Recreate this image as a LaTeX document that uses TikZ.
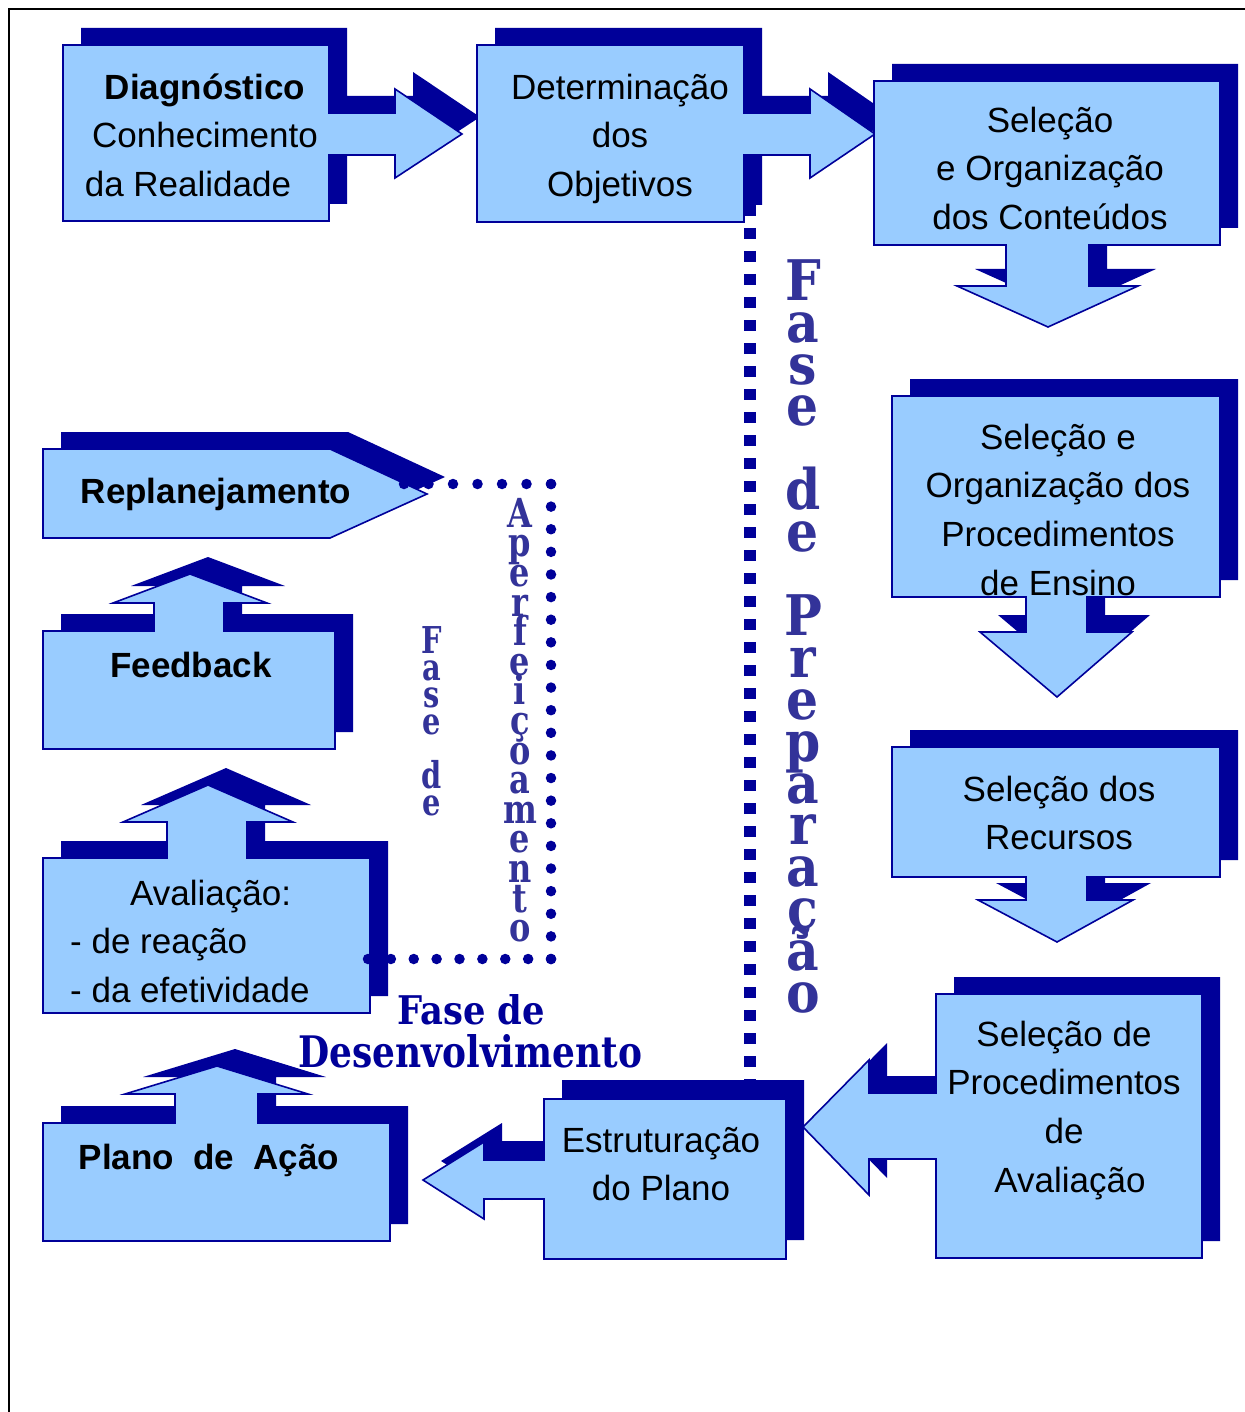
\documentclass[tikz,border=0pt]{standalone}
\usepackage{fontspec}
\setmainfont{Liberation Sans}
\newfontfamily\prepfont[FakeStretch=0.9]{DejaVu Serif}
\newfontfamily\aperfont[FakeStretch=0.8]{DejaVu Serif}
\newfontfamily\fasefont[FakeStretch=0.78]{DejaVu Serif}
\newfontfamily\devfont{DejaVu Serif}
\definecolor{navy}{HTML}{000099}
\definecolor{skyfill}{HTML}{99CCFF}
\definecolor{phaseink}{HTML}{333399}
\newcommand\lnstrut{\rule{0pt}{36pt}}
% draw a shape twice: a solid navy copy offset up-right, then the light front copy
\newcommand\shadowed[2][18,-17]{%
  \path[shade, shift={(#1)}] #2;
  \path[front] #2;}
\tikzset{
  shade/.style={fill=navy, draw=none},
  front/.style={fill=skyfill, draw=navy, line width=1.6pt, line join=miter},
  boxtext/.style={font=\fontsize{35}{48.7}\selectfont, align=center, inner sep=0pt, anchor=north, text=black},
  stacked/.style={align=center, inner sep=0pt, anchor=north, text=phaseink},
  prepstack/.style={stacked, font={\prepfont\bfseries\fontsize{56}{41.9}\selectfont\lineskiplimit=-200pt\lineskip=0pt}},
  aperstack/.style={stacked, font={\aperfont\bfseries\fontsize{40}{29.6}\selectfont\lineskiplimit=-200pt\lineskip=0pt}},
  fasestack/.style={stacked, font={\fasefont\bfseries\fontsize{37}{27}\selectfont\lineskiplimit=-200pt\lineskip=0pt}},
  devtext/.style={font=\devfont\bfseries\fontsize{38}{38}\selectfont, text=navy, inner sep=0pt},
  prepline/.style={draw=navy, line width=12pt, dash pattern=on 11pt off 12pt},
  dotline/.style={draw=navy, line width=10.5pt, line cap=round}
}
\begin{document}
\begin{tikzpicture}[x=1pt, y=-1pt]
\useasboundingbox (0,0) rectangle (1244,1412);
\fill[white] (0,0) rectangle (1244,1412);
% outer frame
\draw[black, line width=2pt] (9,1420) -- (9,9) -- (1250,9);

% preparation phase divider
\coordinate (objBottom) at (750,205);
\coordinate (estTop) at (750,1083);
\draw[prepline] (objBottom) -- (estTop);

% top row
\shadowed{(63,45) -- (329,45) -- (329,113) -- (395,113) -- (395,89) -- (462,134) -- (395,178) -- (395,155) -- (329,155) -- (329,221) -- (63,221) -- cycle}
\shadowed{(477,45) -- (744,45) -- (744,113) -- (810,113) -- (810,89) -- (875,134) -- (810,178) -- (810,155) -- (744,155) -- (744,222) -- (477,222) -- cycle}
\shadowed{(874,81) -- (1220,81) -- (1220,245) -- (1089,245) -- (1089,286) -- (1138,286) -- (1048,327) -- (957,286) -- (1006,286) -- (1006,245) -- (874,245) -- cycle}
% right column
\shadowed{(892,396) -- (1220,396) -- (1220,597) -- (1087,597) -- (1087,632) -- (1132,632) -- (1057,697) -- (980,632) -- (1026,632) -- (1026,597) -- (892,597) -- cycle}
\shadowed{(892,747) -- (1220,747) -- (1220,877) -- (1087,877) -- (1087,900) -- (1133,900) -- (1057,942) -- (978,900) -- (1026,900) -- (1026,877) -- (892,877) -- cycle}
\shadowed{(936,994) -- (1202,994) -- (1202,1258) -- (936,1258) -- (936,1159) -- (869,1159) -- (869,1195) -- (803,1127) -- (869,1060) -- (869,1093) -- (936,1093) -- cycle}
% bottom row
\shadowed[18,-19]{(544,1099) -- (786,1099) -- (786,1259) -- (544,1259) -- (544,1199) -- (484,1199) -- (484,1219) -- (423,1180) -- (484,1142) -- (484,1160) -- (544,1160) -- cycle}
% left column
\shadowed{(43,1123) -- (175,1123) -- (175,1094) -- (125,1094) -- (217,1066) -- (308,1094) -- (258,1094) -- (258,1123) -- (390,1123) -- (390,1241) -- (43,1241) -- cycle}
\shadowed{(43,858) -- (167,858) -- (167,822) -- (123,822) -- (208,785) -- (293,822) -- (247,822) -- (247,858) -- (370,858) -- (370,1013) -- (43,1013) -- cycle}
\shadowed{(43,631) -- (154,631) -- (154,603) -- (113,603) -- (190,574) -- (267,603) -- (224,603) -- (224,631) -- (335,631) -- (335,749) -- (43,749) -- cycle}
\shadowed{(43,449) -- (330,449) -- (427,494) -- (330,538) -- (43,538) -- cycle}

% box texts
\node[boxtext] (diag) at (205,63) {\lnstrut\textbf{Diagnóstico}\\Conhecimento\\da Realidade\rule{34pt}{0pt}};
\node[boxtext] (obj) at (620,63) {\lnstrut Determinação\\dos\\Objetivos};
\node[boxtext] (cont) at (1050,96) {\lnstrut Seleção\\e Organização\\dos Conteúdos};
\node[boxtext] (proc) at (1058,413) {\lnstrut Seleção e\\Organização dos\\Procedimentos\\de Ensino};
\node[boxtext] (rec) at (1059,765) {\lnstrut Seleção dos\\Recursos};
\node[boxtext] (aval) at (1064,1010) {\lnstrut Seleção de\\Procedimentos\\de\\\rule{12pt}{0pt}Avaliação};
\node[boxtext] (estr) at (661,1116) {\lnstrut Estruturação\\do Plano};
\node[boxtext] (plano) at (209,1133) {\lnstrut\textbf{Plano\ \ de\ \ Ação}};
\node[boxtext, align=left, anchor=north west] (avreac) at (70,869) {\lnstrut\hspace*{60pt}Avaliação:\\- de reação\\- da efetividade};
\node[boxtext] (feed) at (191,641) {\lnstrut\textbf{Feedback}};
\node[boxtext] (replan) at (216,467) {\lnstrut\textbf{Replanejamento}};

% improvement loop: Avaliação -> Replanejamento
\coordinate (avalEdge) at (368,959);
\coordinate (loopSE) at (551,959);
\coordinate (loopNE) at (551,484);
\coordinate (replTip) at (404,484);
\draw[dotline, dash pattern=on 0pt off 22.875pt] (avalEdge) -- (loopSE);
\draw[dotline, dash pattern=on 0pt off 22.619pt] (loopSE) -- (loopNE);
\draw[dotline, dash pattern=on 0pt off 24.5pt] (loopNE) -- (replTip);

% phase labels, one letter per line
\node[prepstack] (prep) at (803,250) {\rule{0pt}{50pt}F\\a\\s\\e\\[41.9pt]d\\e\\[41.9pt]P\\r\\e\\p\\a\\r\\a\\ç\\ã\\o};
\node[aperstack] (aper) at (520,487) {\rule{0pt}{40pt}A\\p\\e\\r\\f\\e\\i\\ç\\o\\a\\m\\e\\n\\t\\o};
\node[fasestack] (fasede) at (432,613) {\rule{0pt}{40pt}F\\a\\s\\e\\[27pt]d\\e};
\node[devtext, anchor=base west] (devA) at (397,1024) {\resizebox{148pt}{30pt}{Fase de}};
\node[devtext, anchor=base west] (devB) at (298,1067) {\resizebox{344pt}{33pt}{Desenvolvimento}};
\end{tikzpicture}
\end{document}
